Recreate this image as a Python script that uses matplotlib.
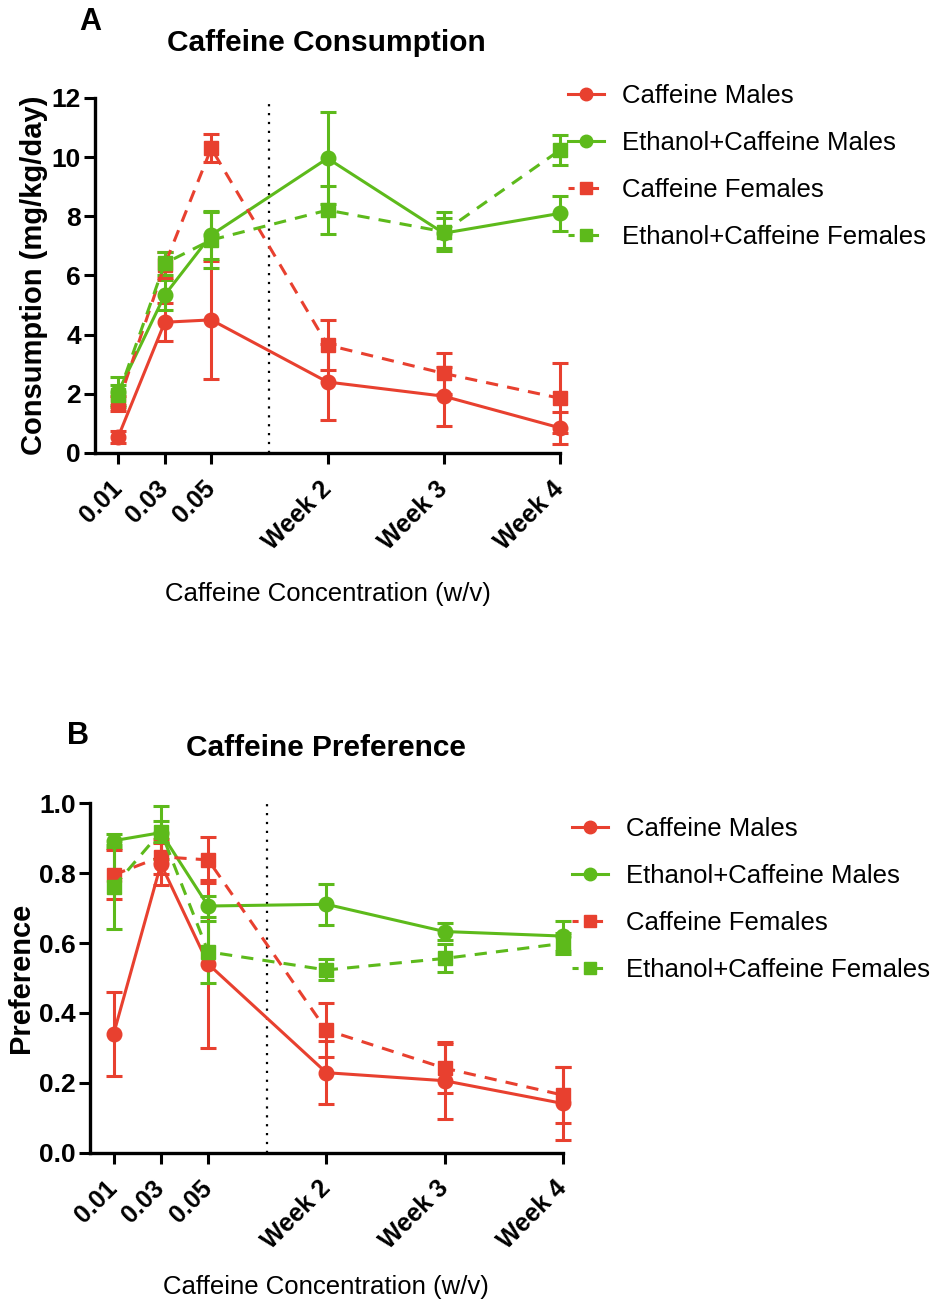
import matplotlib.pyplot as plt

plt.rcParams['font.family'] = ['Liberation Sans', 'DejaVu Sans']

# x categories
x_labels = ["0.01", "0.03", "0.05", "Week 2", "Week 3", "Week 4"]
x_pos = [1, 2, 3, 5.5, 8, 10.5]

series_names = ["Caffeine Males", "Ethanol+Caffeine Males",
                "Caffeine Females", "Ethanol+Caffeine Females"]

# panel A - consumption (mg/kg/day)
cons_caf_m = [0.55, 4.42, 4.50, 2.40, 1.92, 0.85]
cons_caf_m_err = [0.2, 0.65, 2.0, 1.3, 1.0, 0.55]
cons_eth_m = [2.07, 5.34, 7.37, 9.96, 7.43, 8.10]
cons_eth_m_err = [0.5, 0.5, 0.8, 1.56, 0.5, 0.6]
cons_caf_f = [1.68, 6.36, 10.30, 3.65, 2.69, 1.85]
cons_caf_f_err = [0.25, 0.45, 0.48, 0.85, 0.68, 1.18]
cons_eth_f = [1.96, 6.41, 7.20, 8.21, 7.48, 10.24]
cons_eth_f_err = [0.35, 0.4, 0.95, 0.82, 0.65, 0.5]

# panel B - preference
pref_caf_m = [0.340, 0.826, 0.540, 0.229, 0.206, 0.141]
pref_caf_m_err = [0.12, 0.06, 0.24, 0.09, 0.11, 0.105]
pref_eth_m = [0.893, 0.916, 0.706, 0.711, 0.633, 0.620]
pref_eth_m_err = [0.02, 0.076, 0.03, 0.058, 0.025, 0.043]
pref_caf_f = [0.795, 0.847, 0.838, 0.351, 0.242, 0.165]
pref_caf_f_err = [0.07, 0.05, 0.065, 0.077, 0.07, 0.08]
pref_eth_f = [0.761, 0.919, 0.575, 0.523, 0.556, 0.599]
pref_eth_f_err = [0.12, 0.03, 0.088, 0.03, 0.04, 0.03]

red = '#E8402F'
green = '#5DBA1B'

W, H = 932, 1304
fig = plt.figure(figsize=(W / 100, H / 100), dpi=100)


def fx(x):
    return x / W


def fy(y):
    return 1 - y / H


def draw_panel(ax, data, ylim, yticks, yfmt, ylabel, xpad):
    styles = [(red, 'o', '-'), (green, 'o', '-'), (red, 's', (0, (4, 3))), (green, 's', (0, (4, 3)))]
    for (vals, errs), (col, mk, ls), name in zip(data, styles, series_names):
        ax.errorbar(x_pos, vals, yerr=errs, color=col, marker=mk, markersize=10.5,
                    linestyle=ls, linewidth=2.2, elinewidth=2.2, capsize=5.5, capthick=2.2,
                    label=name, clip_on=False, zorder=3)
    ax.axvline(4.25, color='black', linestyle=(0, (1, 3)), linewidth=1.6, zorder=1)
    ax.set_xlim(0.5, 10.5)
    ax.set_ylim(*ylim)
    ax.set_yticks(yticks)
    ax.set_yticklabels([yfmt.format(t) for t in yticks], fontsize=19, fontweight='bold')
    ax.set_xticks(x_pos)
    ax.set_xticklabels(x_labels, fontsize=18, fontweight='bold', rotation=45,
                       ha='right', va='center', rotation_mode='anchor')
    ax.tick_params(axis='x', length=8, width=2.2, pad=15)
    ax.tick_params(axis='y', length=8, width=2.2, pad=2)
    for s in ['top', 'right']:
        ax.spines[s].set_visible(False)
    for s in ['left', 'bottom']:
        ax.spines[s].set_linewidth(2.4)
    ax.set_ylabel(ylabel, fontsize=21, fontweight='bold', labelpad=3)
    ax.set_xlabel("Caffeine Concentration (w/v)", fontsize=18.5, labelpad=xpad)


# panel A
axA = fig.add_axes([fx(95), fy(453), fx(465), 355 / H])
draw_panel(axA,
           [(cons_caf_m, cons_caf_m_err), (cons_eth_m, cons_eth_m_err),
            (cons_caf_f, cons_caf_f_err), (cons_eth_f, cons_eth_f_err)],
           (0, 12), [0, 2, 4, 6, 8, 10, 12], "{:.0f}", "Consumption (mg/kg/day)", 20)
fig.text(fx(90), fy(22), "A", fontsize=22, fontweight='bold', ha='center', va='center')
fig.text(fx(326), fy(43), "Caffeine Consumption", fontsize=21.5, fontweight='bold',
         ha='center', va='center')

# panel B
axB = fig.add_axes([fx(90), fy(1152.7), fx(472.7), 349.4 / H])
draw_panel(axB,
           [(pref_caf_m, pref_caf_m_err), (pref_eth_m, pref_eth_m_err),
            (pref_caf_f, pref_caf_f_err), (pref_eth_f, pref_eth_f_err)],
           (0, 1.0), [0, 0.2, 0.4, 0.6, 0.8, 1.0], "{:.1f}", "Preference", 15)
fig.text(fx(78), fy(736), "B", fontsize=22, fontweight='bold', ha='center', va='center')
fig.text(fx(326), fy(748), "Caffeine Preference", fontsize=21.5, fontweight='bold',
         ha='center', va='center')

# legends
for ax, x0, y0 in [(axA, 568, 84), (axB, 572, 817)]:
    handles = []
    styles = [(red, 'o', '-'), (green, 'o', '-'), (red, 's', (0, (2, 2))), (green, 's', (0, (2, 2)))]
    for (col, mk, ls), name in zip(styles, series_names):
        h, = ax.plot([], [], color=col, marker=mk, linestyle=ls, linewidth=2.2,
                     markersize=9, label=name)
        handles.append(h)
    ax.legend(handles=handles, loc='upper left', bbox_to_anchor=(fx(x0), fy(y0)),
              bbox_transform=fig.transFigure, frameon=False, fontsize=18.5,
              borderaxespad=0, borderpad=0, handlelength=1.4, handletextpad=0.7,
              labelspacing=0.9)

fig.savefig("out.png", dpi=100)
